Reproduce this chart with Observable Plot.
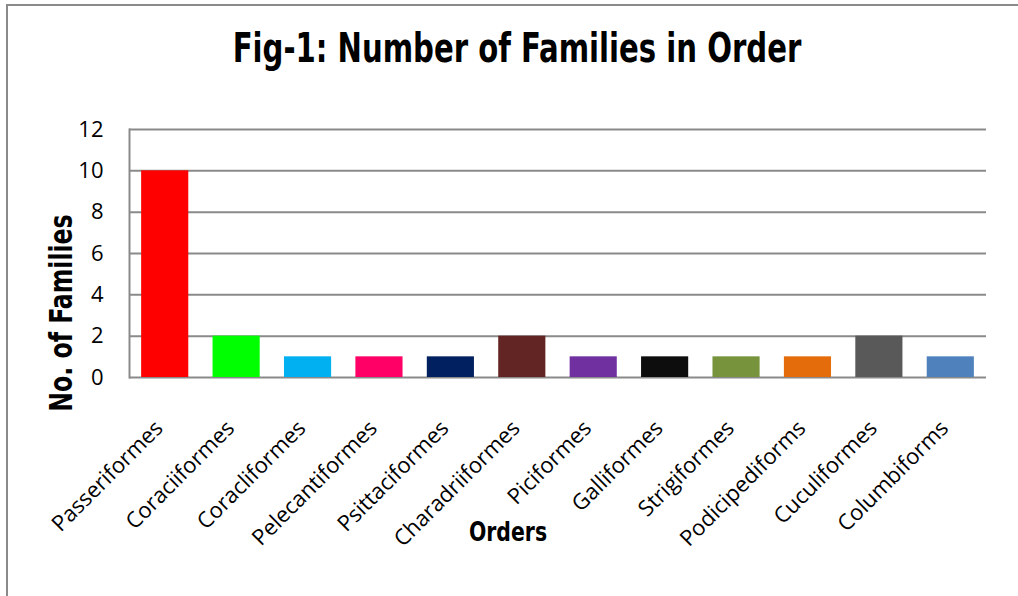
<!DOCTYPE html>
<html>
<head>
<meta charset="utf-8">
<script src="https://cdn.jsdelivr.net/npm/d3@7"></script>
<script src="https://cdn.jsdelivr.net/npm/@observablehq/plot@0.6"></script>
<style>
  html, body { margin: 0; padding: 0; background: #fff; }
  #wrap { position: relative; width: 1018px; height: 596px; overflow: hidden; background: #fff; }
  #border { position: absolute; left: 6px; top: 4px; width: 1100px; height: 700px;
            border-top: 2px solid #8a8a8a; border-left: 2px solid #8a8a8a; box-sizing: border-box; }
  #title { position: relative; height: 90px; width: 1018px; }
  #title span { position: absolute; left: 517px; top: 48px; transform: translate(-50%, -50%) scaleX(0.79);
                font-family: "Liberation Sans Narrow", "DejaVu Sans Condensed", sans-serif;
                font-weight: bold; font-size: 41px; line-height: 1; color: #000; white-space: nowrap; }
  #ylabel { position: absolute; left: 61px; top: 313px; transform: translate(-50%, -50%) rotate(-90deg) scaleX(0.82);
            font-family: "Liberation Sans Narrow", "DejaVu Sans Condensed", sans-serif;
            font-weight: bold; font-size: 32px; line-height: 1; white-space: nowrap; color: #000; }
  #xlabel { position: absolute; left: 508px; top: 531px; transform: translate(-50%, -50%) scaleX(0.84);
            font-family: "Liberation Sans Narrow", "DejaVu Sans Condensed", sans-serif;
            font-weight: bold; font-size: 27px; line-height: 1; white-space: nowrap; color: #000; }
  svg { display: block; }
</style>
</head>
<body>
<div id="wrap">
  <div id="border"></div>
  <div id="title"><span>Fig-1: Number of Families in Order</span></div>
  <div id="chart"></div>
  <div id="ylabel">No. of Families</div>
  <div id="xlabel">Orders</div>
</div>
<script>
const orders = ["Passeriformes", "Coraciiformes", "Coracliformes", "Pelecantiformes", "Psittaciformes",
  "Charadriiformes", "Piciformes", "Galliformes", "Strigiformes", "Podicipediforms", "Cuculiformes", "Columbiforms"];
const families = [10, 2, 1, 1, 1, 2, 1, 1, 1, 1, 2, 1];
const barColors = ["#FF0000", "#00FF00", "#00B0F0", "#FF0066", "#002060", "#632523",
  "#7030A0", "#0D0D0D", "#77933C", "#E46C0A", "#595959", "#4F81BD"];
const yTicks = [0, 2, 4, 6, 8, 10, 12];

const data = orders.map((o, i) => ({order: o, count: families[i]}));

const chart = Plot.plot({
  width: 1018,
  height: 506,
  marginTop: 39,
  marginBottom: 219,
  marginLeft: 129,
  marginRight: 32,
  style: {fontFamily: "'Open Sans', sans-serif", color: "#000", background: "#fff"},
  x: {domain: orders, paddingInner: 0.34, paddingOuter: 0.17, round: false, label: null},
  y: {domain: [0, 12], label: null},
  color: {domain: orders, range: barColors},
  marks: [
    Plot.ruleY(yTicks, {stroke: "#8a8a8a", strokeWidth: 2}),
    Plot.frame({anchor: "left", stroke: "#8a8a8a", strokeWidth: 2}),
    Plot.barY(data, {x: "order", y: "count", fill: "order"}),
    Plot.axisY({ticks: yTicks, tickSize: 0, tickPadding: 26, fontSize: 22, label: null}),
    Plot.axisX({tickSize: 0, tickPadding: 47, tickRotate: -45, fontSize: 22, dx: -6, label: null})
  ]
});
document.getElementById("chart").appendChild(chart);
</script>
</body>
</html>
